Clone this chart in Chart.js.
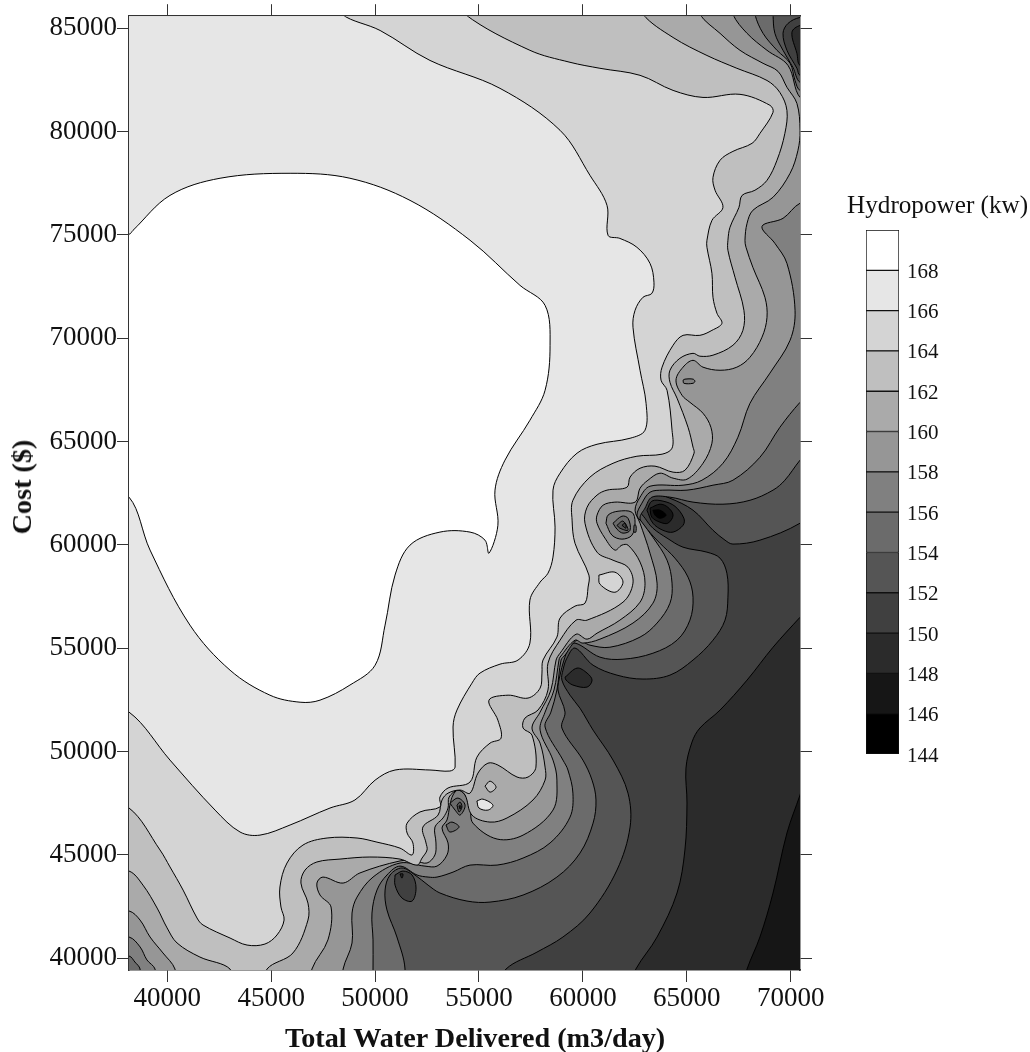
<!DOCTYPE html>
<html lang="en">
<head>
<meta charset="UTF-8">
<title>Hydropower contour</title>
<script src="https://cdn.jsdelivr.net/npm/chart.js"></script>
<style>
    body { margin: 0; background: #fff; width: 1030px; height: 1052px; overflow: hidden; position: relative; font-family: 'Liberation Serif', serif; color: #111; }
    #plot { position: absolute; left: 0; top: 0; }
    #bar { position: absolute; left: 840px; top: 190px; }
    .label { position: absolute; white-space: nowrap; line-height: 32px; }
    #barTitle { left: 847px; top: 189px; font-size: 25.2px; }
    #xTitle { left: 285px; top: 1022px; font-size: 28.2px; font-weight: bold; }
    #yTitle { left: 22px; top: 487px; font-size: 28.2px; font-weight: bold; transform: translate(-50%, -50%) rotate(-90deg); }
</style>
</head>
<body>
<canvas id="plot" width="1030" height="1052"></canvas>
<canvas id="bar" width="190" height="580"></canvas>
<div class="label" id="barTitle">Hydropower (kw)</div>
<div class="label" id="xTitle">Total Water Delivered (m3/day)</div>
<div class="label" id="yTitle">Cost ($)</div>

<script>
const xTicks = [40000, 45000, 50000, 55000, 60000, 65000, 70000];
const yTicks = [40000, 45000, 50000, 55000, 60000, 65000, 70000, 75000, 80000, 85000];
const xRange = [38157, 70448];
const yRange = [39434, 85580];
const levels = [144, 146, 148, 150, 152, 154, 156, 158, 160, 162, 164, 166, 168];
const grays = ['#000000', '#161616', '#2b2b2b', '#404040', '#555555', '#6b6b6b', '#808080', '#969696', '#aaaaaa', '#bfbfbf', '#d4d4d4', '#e6e6e6', '#ffffff'];

// just outside the frame, regions close through these
const W = 37000, E = 71200, N = 86300, S = 38600;

// contour outlines [water, cost], area at or above the level
const above148 = [[67700,S],[67900,39480],[68520,41030],[69150,43160],[69820,46060],[70450,47900],[70690,48620],[E,48620],[E,N],[W,N],[W,S]];
const above150 = [[62270,S],[62550,39480],[63570,41030],[64530,43160],[64910,45240],[65010,47510],[64960,49200],[65250,50460],[65630,51140],[66600,52010],[67900,53460],[69150,55050],[70450,56500],[E,57300],[E,N],[W,N],[W,S]];
const above152 = [[56010,S],[56300,39480],[57790,40300],[59040,41030],[60340,42190],[61640,44270],[62270,46350],[62170,47990],[61450,49590],[60490,51040],[59860,52100],[59380,52730],[58990,53460],[59040,53940],[59230,54520],[59620,55010],[60490,54180],[61640,53700],[62890,53510],[64190,53700],[65300,54430],[66260,55390],[66840,56360],[66980,57470],[66930,58630],[66600,59360],[65970,59650],[64820,59890],[64050,60330],[63370,60810],[62990,61290],[62750,61680],[62990,62260],[63470,62450],[64190,62260],[65300,61680],[66260,60710],[66840,60230],[67220,60040],[68520,60230],[70450,61050],[E,61800],[E,N],[W,N],[W,S]];
const above154 = [[51200,S],[51440,39480],[51050,41030],[50570,42340],[50480,43300],[50720,44030],[51290,44370],[51920,44030],[52550,43540],[53120,43160],[54420,42770],[55530,42720],[57120,43060],[58750,43930],[59860,45090],[60490,46540],[60630,47660],[60440,48620],[60000,49590],[58990,51140],[59140,51910],[58800,52980],[58900,53700],[59090,54430],[59280,54910],[59620,55250],[60820,54570],[61930,54470],[63370,54760],[64530,55390],[65150,56360],[65300,57470],[65060,58440],[64430,59360],[63710,60080],[63130,60710],[62750,61290],[62990,61780],[63320,62310],[64190,62310],[65300,62070],[66740,61970],[68040,62160],[69150,62650],[69720,63130],[70450,64100],[E,64900],[E,82380],[70450,82380],[70110,83100],[69630,83930],[69240,84750],[69150,85670],[69150,N],[W,N],[W,S]];
const above156 = [[49900,S],[49900,39480],[49900,40890],[49850,42190],[50090,43300],[50570,44030],[51200,44460],[52020,44030],[52550,43930],[52980,43930],[53750,44170],[54570,44510],[55870,44510],[57120,44850],[58420,45580],[59380,46830],[59520,47990],[59280,49110],[59040,49590],[58180,51190],[58460,51910],[58750,52980],[58950,54430],[59140,54670],[59720,55390],[60340,55150],[61300,55050],[62750,55540],[63570,56220],[64190,57180],[64290,58150],[64050,59260],[63370,60370],[62840,61100],[62600,61440],[62840,62020],[63230,62550],[63850,62650],[65010,62650],[66260,62890],[67220,63130],[68520,64240],[69480,65690],[70450,66900],[E,67600],[E,81990],[70450,81990],[70210,82470],[69970,83300],[69340,83930],[68670,84750],[68280,85670],[68280,N],[W,N],[W,40110],[38160,40110],[38440,39820],[38690,39480],[38690,S]];
const above158 = [[48460,S],[48460,39480],[48890,40740],[48890,42190],[49130,42960],[49900,43930],[51200,44610],[52400,44460],[52980,44460],[53460,45000],[53510,45580],[53220,46300],[53460,46690],[53600,47410],[53750,47900],[53990,48140],[54330,47900],[54570,47270],[54710,46540],[55870,45770],[57120,45960],[58560,47170],[58750,48620],[58560,49590],[57940,51040],[58180,51910],[58610,52980],[58850,54430],[58900,54570],[59620,55390],[60000,55250],[60820,55440],[62410,56220],[63370,57180],[63570,58150],[63230,59600],[62750,61050],[62510,61680],[62750,62310],[63230,62840],[64820,62890],[65730,63130],[66740,63950],[67460,65210],[68040,66850],[69000,68310],[69970,69900],[70210,71350],[69820,73620],[69240,74590],[68620,75410],[69630,75800],[70450,76530],[E,76530],[E,81650],[70450,81650],[69870,83200],[68860,83930],[67900,84750],[67220,85670],[67220,N],[W,N],[W,41030],[38160,41030],[38690,40550],[39020,39920],[39410,39480],[39410,S]];
const above160 = [[46960,S],[46960,39480],[47730,40890],[47880,42480],[47350,43060],[47200,43640],[47490,43930],[48460,43640],[49270,44130],[51200,44710],[51920,44710],[52500,44610],[52880,45000],[52930,45580],[52880,46350],[53270,46790],[53510,47270],[53560,47800],[53990,48140],[54330,47900],[54660,46930],[55530,46590],[56350,46790],[57600,47660],[58180,48620],[58180,49250],[57940,50410],[57550,51140],[57940,51910],[58460,52980],[58710,54430],[58900,54760],[59670,55680],[60200,55440],[60680,55730],[61780,56360],[62750,57230],[62990,58150],[62750,59170],[62170,59990],[61880,59990],[61540,59750],[61060,60330],[60680,61050],[60680,61440],[60970,61920],[61540,62070],[62510,62070],[62750,62740],[63130,63130],[63710,63470],[64340,63230],[65010,63180],[65780,63950],[66210,64920],[66160,65690],[65780,66370],[65150,66900],[64770,67240],[64480,67970],[64820,68600],[65300,68930],[65780,68600],[66600,68450],[67410,68600],[68040,69080],[68620,70050],[68860,71010],[68760,71980],[68180,73430],[67850,74400],[67800,74740],[67900,75560],[68180,76190],[69150,76820],[69970,77980],[70350,79090],[70450,80060],[70300,81360],[69820,82140],[69390,82910],[68670,83300],[67560,83930],[66600,84750],[65630,85670],[65630,N],[W,N],[W,42290],[38160,42290],[38690,41850],[39170,41030],[39790,40260],[40370,39480],[40370,S]];
const above162 = [[44800,S],[44800,39480],[46050,40260],[46770,41850],[46770,42670],[46430,43640],[46630,44270],[47200,44660],[48310,44800],[49750,44900],[51200,44800],[52020,44510],[52260,44850],[52500,45240],[52450,45580],[52300,46350],[53030,46930],[53220,47660],[53510,47990],[54090,48140],[54570,47990],[54950,48960],[55430,49440],[55910,49350],[56830,48770],[57360,48770],[57740,49250],[57550,50800],[57120,51140],[57210,51620],[57840,52010],[58320,52980],[58320,54280],[58900,55390],[59670,56360],[60200,56360],[61930,57230],[62410,58150],[62170,58920],[61450,59260],[60680,59650],[60100,61050],[60200,61820],[60680,62410],[61160,62650],[62120,62790],[62270,63280],[62750,63710],[63470,63810],[64340,63520],[64910,63610],[65350,64440],[65300,64730],[65060,65690],[64530,67100],[64190,67870],[64190,68450],[64670,69030],[65300,69270],[65630,69130],[66260,69180],[67220,69660],[67700,70380],[67750,71350],[67320,72950],[66980,74250],[66980,74740],[67080,75370],[67510,76330],[67660,76910],[68280,77160],[68860,77640],[69340,78610],[69720,79910],[69820,81020],[69480,81890],[68860,82470],[67410,83060],[65970,83680],[64340,84550],[62890,85670],[62890,N],[W,N],[W,44220],[38160,44220],[38830,43540],[39510,42430],[39990,41470],[40470,40740],[41570,40060],[43020,39480],[43020,S]];
const above164 = [[54330,N],[54330,85670],[57450,83930],[59380,83350],[60820,83060],[62750,82720],[64340,81990],[65780,81650],[67560,81800],[69000,81270],[69150,80930],[68520,79910],[68140,79430],[67220,79040],[66600,78610],[66260,77780],[66360,77160],[66740,76330],[66210,75700],[65970,74740],[65970,74400],[66210,73140],[66260,71980],[66450,71210],[66690,70720],[66210,70380],[65630,70140],[64820,70140],[64340,69660],[63810,68600],[63760,67970],[64050,67480],[64290,65550],[64290,64680],[63810,64390],[62600,64290],[61450,63950],[60340,63280],[59520,62160],[59480,61200],[59620,60080],[60290,58540],[60250,57960],[60100,57180],[59620,57040],[58900,56460],[58750,55540],[58080,54430],[58030,53800],[57940,53070],[57360,52590],[56400,52730],[55480,52490],[55910,51520],[56060,50650],[55530,50410],[54900,49730],[54570,48530],[53510,48240],[53120,47800],[53120,47320],[52160,47080],[51540,46540],[51540,46060],[51820,45580],[51780,45000],[51200,45330],[50090,45620],[49130,45820],[47690,45820],[46530,45480],[45760,44610],[45420,43450],[45470,42480],[45620,41850],[45280,41130],[44700,40690],[43840,40640],[43020,40980],[41720,41610],[41430,41950],[40760,43300],[40130,44420],[39650,45240],[38160,47270],[W,47270],[W,N]];
const above166 = [[48410,N],[48410,85670],[50240,84890],[52640,83440],[56010,82090],[58900,80060],[60340,77880],[61160,76430],[61210,74980],[61780,74830],[62600,74400],[63230,73620],[63420,72710],[63320,72170],[62890,71980],[62510,71350],[62410,70530],[62750,68450],[63040,66850],[62990,65550],[62270,65160],[60680,64870],[59720,64440],[58900,63470],[58560,62650],[58660,60860],[58560,59410],[58320,58630],[57940,58200],[57450,57330],[57450,55250],[56880,54430],[56010,54230],[55050,53800],[54660,53310],[53940,52010],[53750,51190],[53850,49250],[53600,49060],[52640,49110],[50960,49110],[50000,48620],[49030,47660],[47830,47270],[45910,46450],[44460,45960],[43500,46110],[42300,47170],[40130,49590],[38160,51910],[W,51910],[W,N]];
const above168 = [[W,75030],[38160,75030],[38350,75220],[40130,76910],[42540,77740],[45910,77980],[48790,77740],[51680,76670],[54570,74740],[56970,72560],[58180,71590],[58420,69660],[58180,67480],[57450,66030],[56250,64100],[55770,62650],[55910,60950],[55480,59600],[55290,60230],[54570,60620],[53120,60620],[51680,59990],[50960,58540],[50480,56120],[50000,54180],[48790,53220],[47350,52490],[46390,52390],[44940,52730],[43020,53940],[41090,56120],[39170,59750],[38160,62310],[W,62310]];

// closed spots that sit inside a band
const topRight150 = [[E,85520],[70450,85520],[69870,85230],[69630,84750],[69820,83930],[70300,83060],[70450,82720],[E,82720]];
const topRight148 = [[E,85130],[70450,85130],[70060,84800],[70300,83780],[70450,83200],[E,83200]];
const spotA148 = [[63080,61680],[63320,62120],[63850,62120],[64430,61870],[64860,61290],[64820,60950],[64340,60620],[63850,60710],[63370,61050]];
const spotA146 = [[63230,61780],[63710,61970],[64090,61820],[64340,61440],[64090,61050],[63710,61100],[63320,61340]];
const spotA144 = [[63370,61680],[63710,61680],[64000,61440],[63710,61290],[63470,61440]];
const spotB156 = [[61110,61050],[61210,61440],[61690,61630],[62360,61580],[62510,61100],[62360,60470],[61880,60280],[61400,60470]];
const spotB154 = [[61450,61050],[61880,61390],[62170,61290],[62270,60710],[61930,60570],[61640,60760]];
const spotB152 = [[61640,60950],[61930,61150],[62170,60710],[61780,60810]];
const spotB150 = [[61880,60950],[62030,61050],[62070,60810]];
const spotC154 = [[62460,60950],[62550,60950],[62550,60620],[62460,60620]];
const spotD148 = [[59140,53600],[59720,54040],[60200,53800],[60440,53460],[60200,53120],[59520,53220],[59190,53460]];
const spotE150 = [[50960,44030],[51340,44220],[51780,44030],[51970,43400],[51780,42770],[51290,42920],[50960,43540]];
const spotE148 = [[51200,44080],[51340,44080],[51290,43880]];
const spotF154 = [[53600,47510],[53990,47750],[54330,47410],[54090,46930],[53850,47170]];
const spotF152 = [[53940,47410],[54090,47560],[54180,47320],[54040,47080]];
const spotF150 = [[54040,47370],[54130,47370],[54090,47220]];
const spotG154 = [[53410,46450],[53700,46590],[54040,46350],[53600,46110]];
const spotH156 = [[64820,67970],[64910,68020],[65300,68020],[65390,67920],[65300,67820],[64860,67820]];
const spotI162 = [[55290,48330],[55530,48570],[55820,48280],[55530,48040]];
const spotJ166 = [[54900,47610],[55190,47700],[55670,47410],[55430,47170],[55000,47270]];
const spotK164 = [[60770,58540],[61540,58680],[61930,58200],[61540,57710],[60820,58100]];

// painted in this order, later ones lie on top
const paintOrder = [
    [146, [[W,S],[E,S],[E,N],[W,N]]],
    [148, above148], [150, above150], [152, above152], [154, above154], [156, above156],
    [158, above158], [160, above160], [162, above162], [164, above164], [166, above166], [168, above168],
    [150, topRight150], [148, topRight148],
    [148, spotA148], [146, spotA146], [144, spotA144],
    [156, spotB156], [154, spotB154], [152, spotB152], [150, spotB150], [154, spotC154],
    [148, spotD148], [150, spotE150], [148, spotE148],
    [154, spotF154], [152, spotF152], [150, spotF150], [154, spotG154],
    [156, spotH156], [162, spotI162], [166, spotJ166], [164, spotK164]
];

const serif = 'Liberation Serif';
const inkColor = '#111';
const frameColor = '#333';

function fixedTicks(values) {
    return scale => { scale.ticks = values.map(v => ({ value: v })); };
}

// chart.js draws the first dataset on top, so reverse
const contourSets = paintOrder.map(([level, pts], i) => ({
    data: [...pts, pts[0]].map(p => ({ x: p[0], y: p[1] })),
    showLine: true,
    fill: 'shape',
    backgroundColor: grays[levels.indexOf(level)],
    borderColor: '#000',
    borderWidth: i === 0 ? 0 : 1,
    pointRadius: 0,
    tension: 0.35,
    capBezierPoints: false
})).reverse();

const hiddenGrid = { drawOnChartArea: false, drawTicks: true, tickLength: 12, color: frameColor };
const frameBorder = { display: true, color: frameColor, width: 1.5 };

new Chart(document.getElementById('plot'), {
    type: 'scatter',
    data: { datasets: contourSets },
    options: {
        responsive: false,
        animation: false,
        events: [],
        layout: { padding: 0 },
        plugins: { legend: { display: false }, tooltip: { enabled: false } },
        scales: {
            x: {
                type: 'linear', position: 'bottom', min: xRange[0], max: xRange[1],
                afterBuildTicks: fixedTicks(xTicks),
                afterFit: s => { s.height = 82; },
                grid: hiddenGrid, border: frameBorder,
                ticks: { font: { family: serif, size: 27 }, color: inkColor, padding: 1, maxRotation: 0, autoSkip: false, callback: v => String(v) }
            },
            xTop: {
                type: 'linear', position: 'top', min: xRange[0], max: xRange[1],
                afterBuildTicks: fixedTicks(xTicks),
                afterFit: s => { s.height = 14; },
                grid: hiddenGrid, border: frameBorder,
                ticks: { display: false }
            },
            y: {
                type: 'linear', position: 'left', min: yRange[0], max: yRange[1],
                afterBuildTicks: fixedTicks(yTicks),
                afterFit: s => { s.width = 129; },
                grid: hiddenGrid, border: frameBorder,
                ticks: { font: { family: serif, size: 27 }, color: inkColor, padding: 0, autoSkip: false, callback: v => String(v) }
            },
            yRight: {
                type: 'linear', position: 'right', min: yRange[0], max: yRange[1],
                afterBuildTicks: fixedTicks(yTicks),
                afterFit: s => { s.width = 230; },
                grid: hiddenGrid, border: frameBorder,
                ticks: { display: false }
            }
        }
    }
});

// colour key
new Chart(document.getElementById('bar'), {
    type: 'bar',
    data: {
        labels: [''],
        datasets: levels.map((lvl, i) => ({
            data: [[lvl, lvl + 2]],
            backgroundColor: grays[i],
            borderColor: '#111',
            borderWidth: 1,
            borderSkipped: false,
            barPercentage: 1,
            categoryPercentage: 1,
            grouped: false
        }))
    },
    options: {
        responsive: false,
        animation: false,
        events: [],
        layout: { padding: { left: 26, top: 40, bottom: 16, right: 0 } },
        plugins: { legend: { display: false }, tooltip: { enabled: false } },
        scales: {
            x: { display: false },
            y: {
                position: 'right', min: 144, max: 170,
                afterBuildTicks: fixedTicks(levels),
                afterFit: s => { s.width = 131; },
                grid: { display: false },
                border: { display: false },
                ticks: { font: { family: serif, size: 21 }, color: inkColor, padding: 0, labelOffset: 2, autoSkip: false, callback: v => String(v) }
            }
        }
    }
});
</script>
</body>
</html>
